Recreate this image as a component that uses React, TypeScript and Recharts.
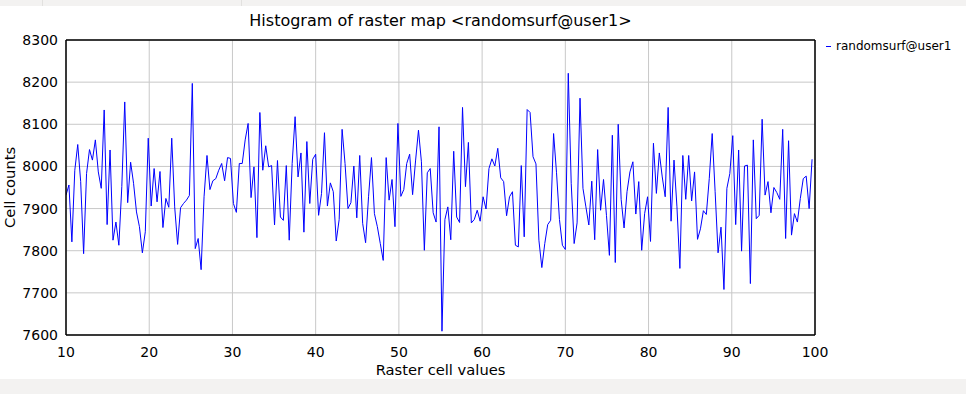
import React from 'react';
import { LineChart, Line, XAxis, YAxis, CartesianGrid, ReferenceLine, Legend, Label } from 'recharts';

const seriesName = 'randomsurf@user1';
const titleText = 'Histogram of raster map <randomsurf@user1>';
const xLabel = 'Raster cell values';
const yLabel = 'Cell counts';

const binStart = 10;
const binEnd = 100;
const xTicks = [10, 20, 30, 40, 50, 60, 70, 80, 90, 100];
const yTicks = [7600, 7700, 7800, 7900, 8000, 8100, 8200, 8300];

const cellCounts = [
  7932, 7956, 7821, 7991, 8052, 7964, 7793, 7983, 8040, 8015,
  8063, 7987, 7948, 8134, 7862, 8039, 7825, 7868, 7813, 7952,
  8153, 7914, 8010, 7960, 7892, 7857, 7795, 7845, 8067, 7906,
  7995, 7916, 7988, 7855, 7924, 7903, 8067, 7904, 7815, 7902,
  7912, 7920, 7931, 8197, 7805, 7829, 7755, 7928, 8026, 7945,
  7966, 7971, 7991, 8007, 7966, 8021, 8019, 7912, 7891, 8007,
  8007, 8063, 8102, 7926, 7999, 7831, 8128, 7991, 8049, 7999,
  8002, 7861, 8014, 7880, 7872, 8002, 7825, 8007, 8118, 7975,
  8032, 7844, 8059, 7912, 8017, 8029, 7884, 7936, 8080, 7906,
  7961, 7940, 7823, 7874, 8088, 8007, 7900, 7914, 8001, 7878,
  8026, 7865, 7819, 7928, 8021, 7888, 7857, 7817, 7777, 8021,
  7920, 7969, 7857, 8102, 7929, 7945, 8007, 8029, 7933, 8013,
  8086, 8011, 7801, 7985, 7995, 7890, 7868, 8094, 7609, 7874,
  7904, 7826, 8036, 7880, 7867, 8140, 7952, 8057, 7866, 7874,
  7896, 7870, 7928, 7899, 7995, 8018, 8001, 8043, 7973, 7964,
  7883, 7928, 7940, 7813, 7809, 8002, 7833, 8135, 8128, 8023,
  8006, 7825, 7760, 7817, 7862, 7872, 8078, 7985, 7874, 7813,
  7803, 8221, 7960, 7817, 7866, 8162, 7948, 7904, 7861, 7965,
  7826, 8040, 7896, 7969, 7884, 7789, 8074, 7772, 8100, 7922,
  7854, 7940, 7987, 8011, 7887, 7964, 7801, 7888, 7928, 7822,
  8055, 7936, 8032, 7975, 7928, 8140, 7870, 8015, 7904, 7758,
  8026, 7922, 8026, 7918, 7987, 7827, 7852, 7895, 7886, 7971,
  8078, 7940, 7795, 7856, 7708, 7948, 7983, 8073, 7862, 8039,
  7799, 8001, 8003, 7722, 8063, 7876, 7884, 8112, 7932, 7964,
  7890, 7950, 7938, 7922, 8088, 7829, 8061, 7837, 7888, 7868,
  7924, 7971, 7977, 7900, 8017,
];

const binCount = 255;
const binWidth = (binEnd - binStart) / binCount;
const data = cellCounts.map((c, i) => ({ value: binStart + i * binWidth, count: c }));

const FONT = '"DejaVu Sans", sans-serif';

const renderLegend = () => (
  <div style={{ fontFamily: FONT, fontSize: 12, color: '#000', display: 'flex', alignItems: 'center', whiteSpace: 'nowrap' }}>
    <span style={{ display: 'inline-block', width: 5, height: 1, background: '#0000ff', marginRight: 5 }} />
    <span>{seriesName}</span>
  </div>
);

export default function App() {
  return (
    <div style={{ position: 'absolute', left: 0, top: 0, width: 966, height: 394, background: '#ffffff', overflow: 'hidden' }}>
      <div style={{ position: 'absolute', left: 0, top: 0, width: 966, height: 6, background: '#f3f2f1' }} />
      <div style={{ position: 'absolute', left: 42, top: 0, width: 1, height: 6, background: '#e2e1df' }} />
      <div style={{ position: 'absolute', left: 241, top: 0, width: 1, height: 6, background: '#e2e1df' }} />
      <div style={{ position: 'absolute', left: 0, top: 379, width: 966, height: 15, background: '#f3f2f1' }} />
      <div style={{ position: 'absolute', left: 0, top: 0 }}>
        <LineChart width={966} height={379} data={data} margin={{ top: 40, right: 151, bottom: 14, left: 10 }}>
          <CartesianGrid stroke="#c8c8c8" strokeWidth={1} />
          <XAxis
            dataKey="value"
            type="number"
            domain={[binStart, binEnd]}
            ticks={xTicks}
            allowDataOverflow
            tickLine={false}
            tickMargin={6}
            axisLine={{ stroke: '#000', strokeWidth: 1.5 }}
            tick={{ fill: '#000', fontSize: 14, fontFamily: FONT }}
            height={30}
          >
            <Label
              content={() => (
                <text x={440.5} y={375} textAnchor="middle" fontFamily={FONT} fontSize={14.7} fill="#000">
                  {xLabel}
                </text>
              )}
            />
          </XAxis>
          <YAxis
            type="number"
            domain={[7600, 8300]}
            ticks={yTicks}
            allowDataOverflow
            tickLine={false}
            axisLine={{ stroke: '#000', strokeWidth: 1.5 }}
            tick={{ fill: '#000', fontSize: 14, fontFamily: FONT }}
            width={56}
          >
            <Label
              content={() => (
                <text
                  x={15}
                  y={187.5}
                  textAnchor="middle"
                  fontFamily={FONT}
                  fontSize={14.7}
                  fill="#000"
                  transform="rotate(-90 15 187.5)"
                >
                  {yLabel}
                </text>
              )}
            />
          </YAxis>
          <ReferenceLine y={8300} stroke="#000" strokeWidth={1.5} />
          <ReferenceLine x={100} stroke="#000" strokeWidth={1.5} />
          <Line
            type="linear"
            dataKey="count"
            name={seriesName}
            stroke="#0000ff"
            strokeWidth={1}
            dot={false}
            activeDot={false}
            isAnimationActive={false}
          />
          <Legend
            content={renderLegend}
            layout="horizontal"
            verticalAlign="middle"
            align="center"
            wrapperStyle={{ position: 'absolute', left: 826, top: 39, width: 140, height: 18 }}
          />
          <text x={440.5} y={26} textAnchor="middle" fontFamily={FONT} fontSize={16} fill="#000">
            {titleText}
          </text>
        </LineChart>
      </div>
    </div>
  );
}
